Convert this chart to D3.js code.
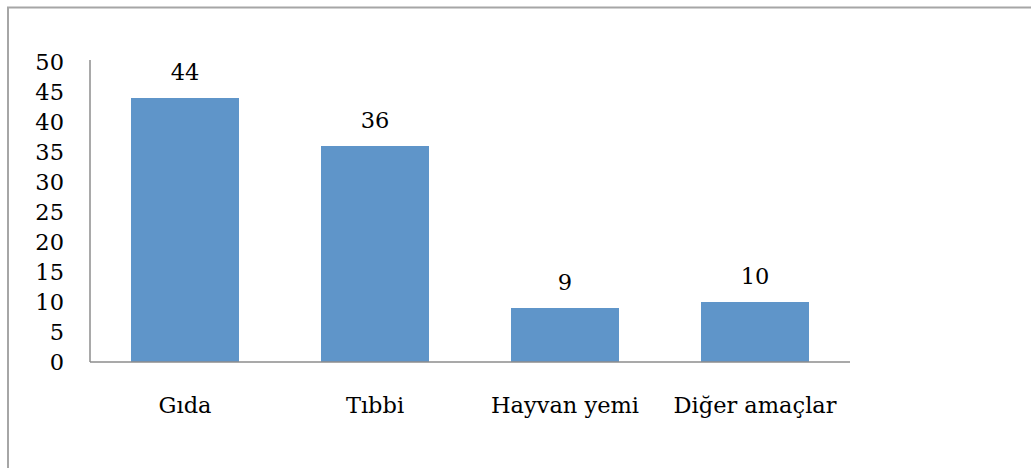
<!DOCTYPE html>
<meta charset="utf-8">
<script src="https://d3js.org/d3.v7.min.js"></script>
<style>
  body { margin: 0; background: #fff; }
  text { font-family: "DejaVu Serif", serif; fill: #000; }
</style>
<div id="chart"></div>
<script>

  // data
  var categories = ["Gıda", "Tıbbi", "Hayvan yemi", "Diğer amaçlar"];
  var values = [44, 36, 9, 10];
  var yTicks = [0, 5, 10, 15, 20, 25, 30, 35, 40, 45, 50];

  var W = 1031, H = 468;
  var plot = {left: 90, right: 850, top: 62, bottom: 362};
  var fontSize = "22.5px";

  var svg = d3.select("#chart").append("svg")
    .attr("width", W)
    .attr("height", H);

  // frame (only top and left edges show)
  svg.append("path")
    .attr("d", "M8," + H + "V7.5H" + W)
    .attr("fill", "none")
    .attr("stroke", "#a6a6a6")
    .attr("stroke-width", 2);

  var x = d3.scaleBand()
    .domain(categories)
    .range([plot.left, plot.right])
    .paddingInner(0.4316)
    .paddingOuter(0.2158);

  var y = d3.scaleLinear()
    .domain([0, 50])
    .range([plot.bottom, plot.top]);

  // bars
  svg.selectAll(".bar")
    .data(values)
    .enter()
    .append("rect")
    .attr("class", "bar")
    .attr("x", function (d, i) { return x(categories[i]); })
    .attr("y", function (d) { return y(d); })
    .attr("width", x.bandwidth())
    .attr("height", function (d) { return y(0) - y(d); })
    .attr("fill", "#5f95c9");

  // value labels
  svg.selectAll(".val")
    .data(values)
    .enter()
    .append("text")
    .attr("class", "val")
    .attr("x", function (d, i) { return x(categories[i]) + x.bandwidth() / 2; })
    .attr("y", function (d) { return y(d) - 18; })
    .attr("text-anchor", "middle")
    .style("font-size", fontSize)
    .text(function (d) { return d; });

  // Y axis
  var yAxis = svg.append("g")
    .attr("transform", "translate(" + plot.left + ",0)")
    .call(d3.axisLeft(y).tickValues(yTicks).tickSize(0).tickPadding(26));
  yAxis.select(".domain").remove();
  yAxis.selectAll("text")
    .style("font-size", fontSize)
    .style("font-family", "DejaVu Serif, serif")
    .attr("fill", "#000");

  // X axis
  var xAxis = svg.append("g")
    .attr("transform", "translate(0," + plot.bottom + ")")
    .call(d3.axisBottom(x).tickSize(0).tickPadding(0));
  xAxis.select(".domain").remove();
  xAxis.selectAll("text")
    .attr("y", 51)
    .attr("dy", null)
    .style("font-size", fontSize)
    .style("font-family", "DejaVu Serif, serif")
    .attr("fill", "#000");

  // axis lines
  svg.append("line")
    .attr("x1", plot.left).attr("x2", plot.left)
    .attr("y1", plot.top - 2).attr("y2", plot.bottom)
    .attr("stroke", "#8c8c8c").attr("stroke-width", 1.5);
  svg.append("line")
    .attr("x1", plot.left).attr("x2", plot.right)
    .attr("y1", plot.bottom).attr("y2", plot.bottom)
    .attr("stroke", "#8c8c8c").attr("stroke-width", 1.5);

</script>
